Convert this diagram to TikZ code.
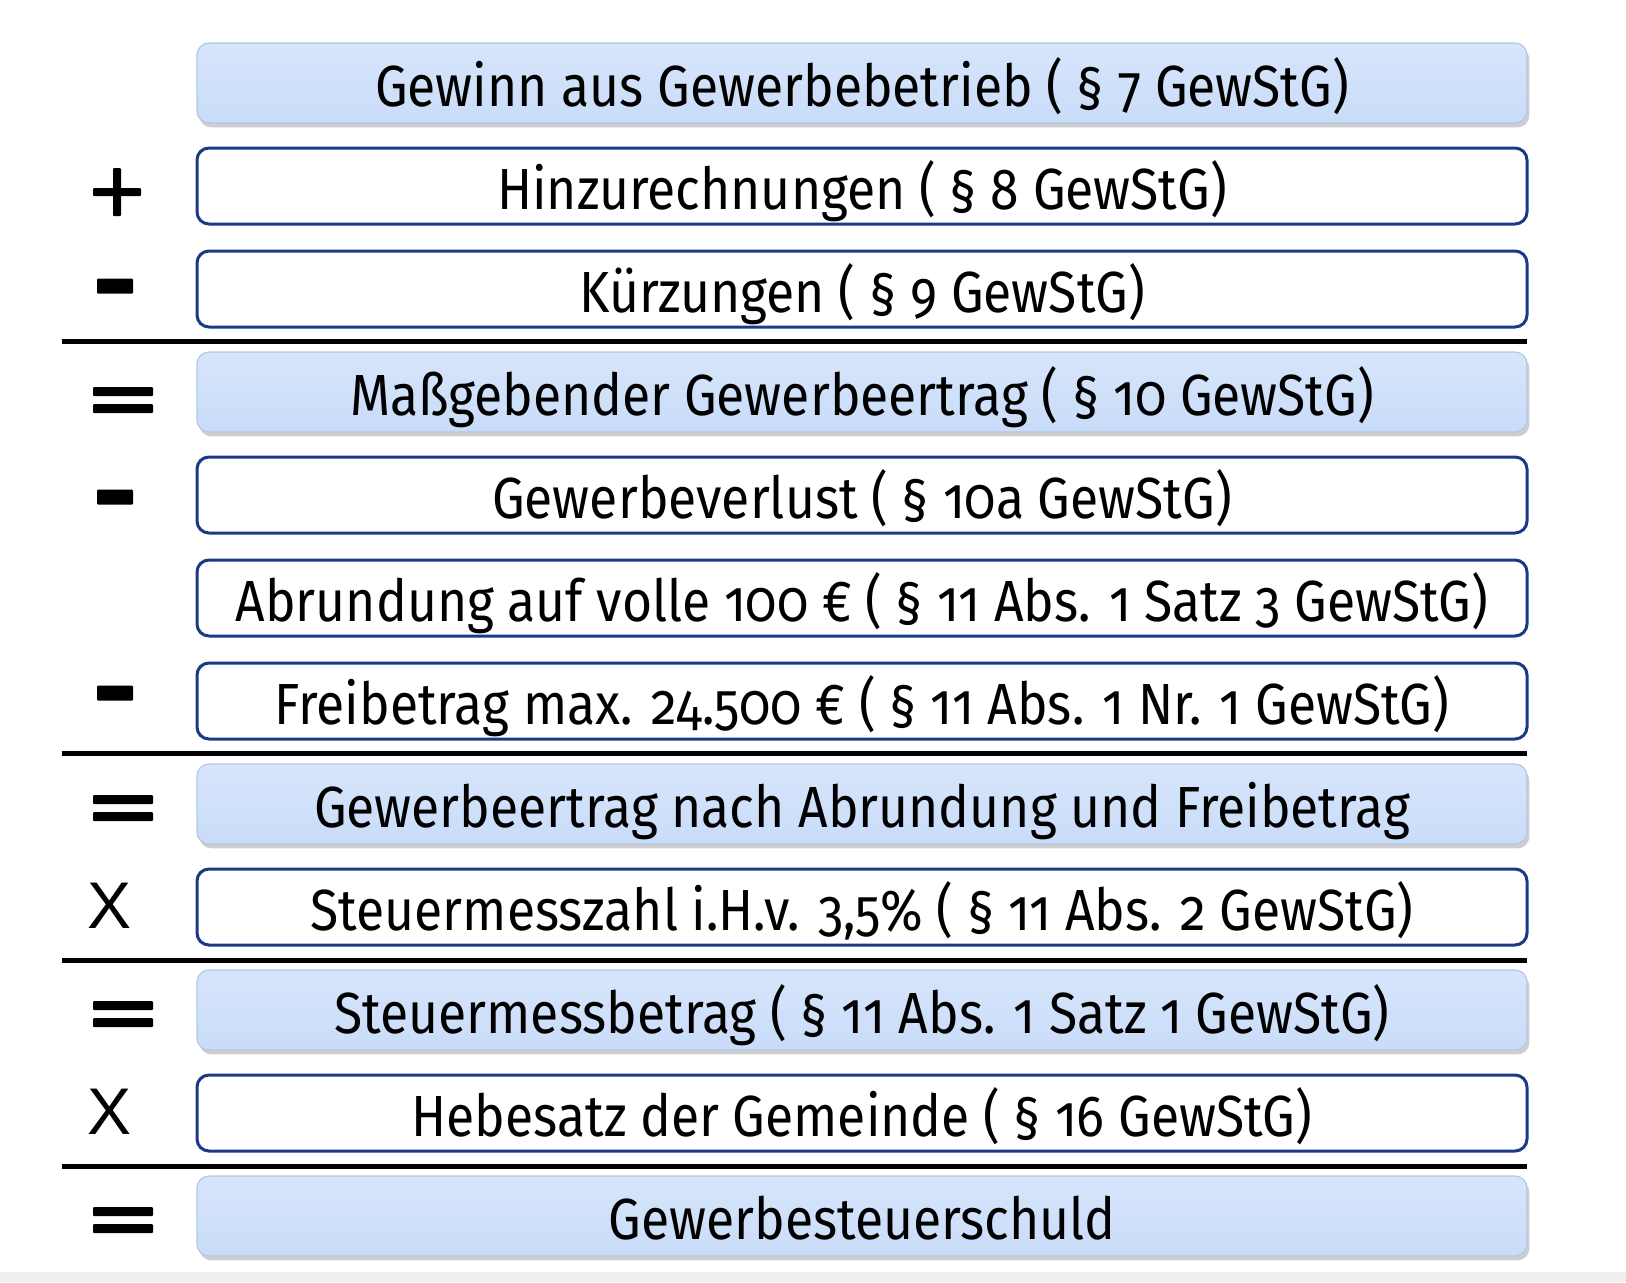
\documentclass[tikz,border=0pt]{standalone}
\usepackage{fontspec}
\setmainfont[Numbers=OldStyle, FakeStretch=0.89]{Fira Sans}
\newfontfamily\symfont{Liberation Sans}
\usetikzlibrary{shadows}
\definecolor{navy}{HTML}{1B3A86}
\definecolor{bluetop}{HTML}{D7E5FB}
\definecolor{bluebot}{HTML}{C9DCF8}
\definecolor{blueedge}{HTML}{B2C7E6}
\definecolor{stripgray}{HTML}{EEEEEE}
\tikzset{
  rowbox/.style={rounded corners=6pt, minimum width=665pt, inner sep=0pt, text height=27pt, text depth=4pt,
    font=\fontsize{29}{29}\selectfont, text=black},
  bluebox/.style={rowbox, minimum height=40pt, draw=blueedge, line width=0.6pt, top color=bluetop, bottom color=bluebot,
    drop shadow={shadow xshift=1.2pt, shadow yshift=-2.2pt, opacity=0.35, fill=black!55}},
  whitebox/.style={rowbox, minimum height=38pt, draw=navy, line width=1.5pt, fill=white},
  sepline/.style={line width=2.5pt, black},
  symbar/.style={fill=black, rounded corners=0.5pt},
  xsym/.style={font=\symfont\fontsize{33}{33}\selectfont, inner sep=0pt}
}
\begin{document}
\begin{tikzpicture}[x=0.5pt,y=-0.5pt]
\useasboundingbox (0,0) rectangle (1626,1282);
\fill[stripgray] (0,1272) rectangle (1626,1282);
% boxes
\node[bluebox]  (r0)  at (862,83)   {Gewinn aus Gewerbebetrieb ( § 7 GewStG)};
\node[whitebox] (r1)  at (862,186)  {Hinzurechnungen ( § 8 GewStG)};
\node[whitebox] (r2)  at (862,289)  {Kürzungen ( § 9 GewStG)};
\node[bluebox]  (r3)  at (862,392)  {Maßgebender Gewerbeertrag ( § 10 GewStG)};
\node[whitebox] (r4)  at (862,495)  {Gewerbeverlust ( § 10a GewStG)};
\node[whitebox] (r5)  at (862,598)  {Abrundung auf volle 100 € ( § 11 Abs. 1 Satz 3 GewStG)};
\node[whitebox] (r6)  at (862,701)  {Freibetrag max. 24.500 € ( § 11 Abs. 1 Nr. 1 GewStG)};
\node[bluebox]  (r7)  at (862,804)  {Gewerbeertrag nach Abrundung und Freibetrag};
\node[whitebox] (r8)  at (862,907)  {Steuermesszahl i.H.v. 3,5\% ( § 11 Abs. 2 GewStG)};
\node[bluebox]  (r9)  at (862,1010) {Steuermessbetrag ( § 11 Abs. 1 Satz 1 GewStG)};
\node[whitebox] (r10) at (862,1113) {Hebesatz der Gemeinde ( § 16 GewStG)};
\node[bluebox]  (r11) at (862,1216) {Gewerbesteuerschuld};
% separator lines
\foreach \y in {341,753,960,1166}
  \draw[sepline] (62,\y) -- (1527,\y);
% plus
\fill[symbar] (93,188) rectangle (141,196);
\fill[symbar] (113,168) rectangle (121,216);
% minus signs
\foreach \c in {286,497,693}
  \fill[symbar] (97,\c-7.5) rectangle (133,\c+7.5);
% equals signs
\foreach \c in {400,808,1014,1220}{
  \fill[symbar] (93,\c-13) rectangle (153,\c-4);
  \fill[symbar] (93,\c+4) rectangle (153,\c+13);
}
% times signs
\node[xsym] (x1) at (110,906) {X};
\node[xsym] (x2) at (110,1112) {X};
\end{tikzpicture}
\end{document}
